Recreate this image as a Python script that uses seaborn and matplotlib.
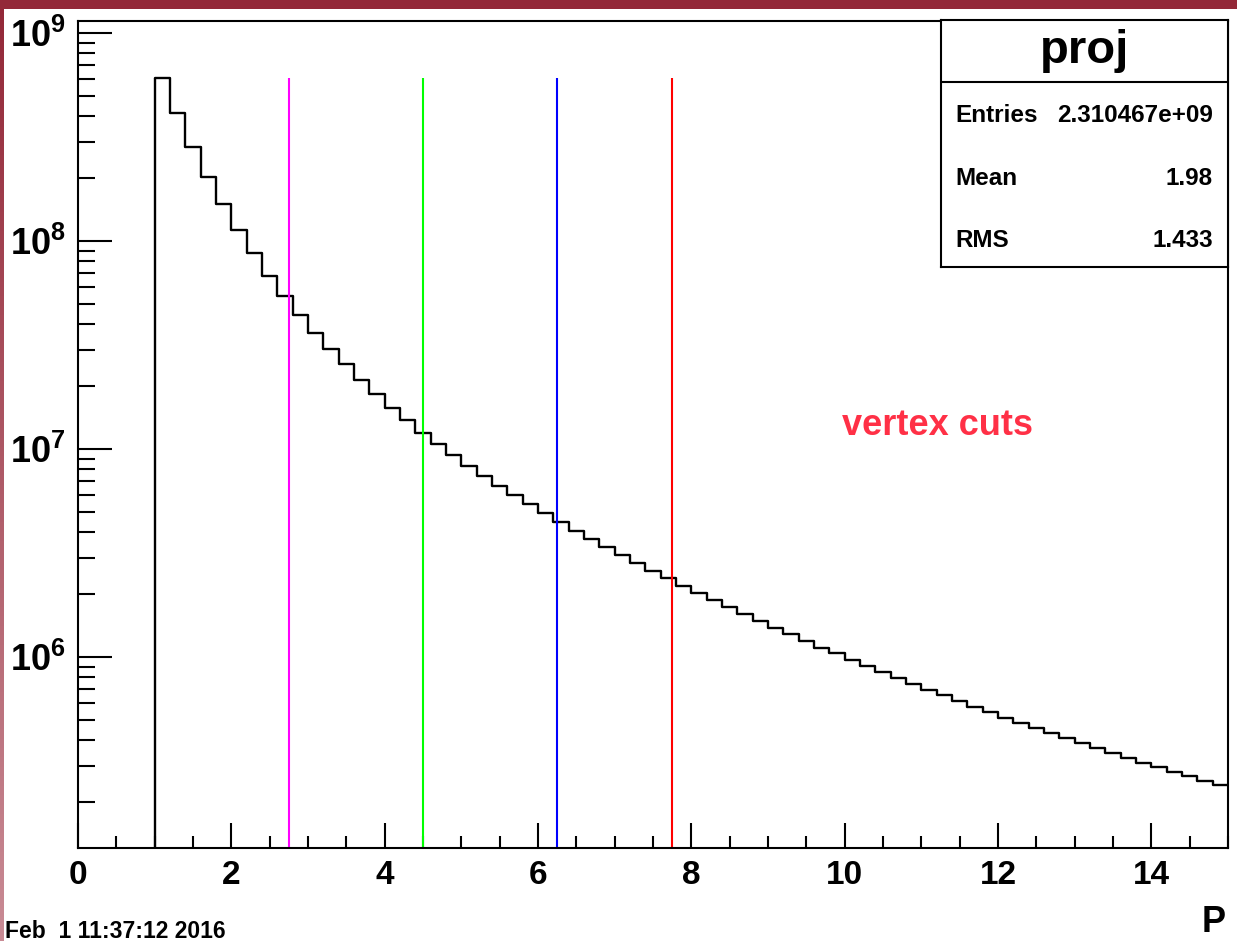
import numpy as np
import pandas as pd
import matplotlib.pyplot as plt
import seaborn as sns
from matplotlib.ticker import LogLocator, MultipleLocator, NullFormatter
from matplotlib.colors import LinearSegmentedColormap
from matplotlib.patches import Rectangle

# histogram "proj": 70 bins of 0.2 in P from 1 to 15
bin_edges = np.linspace(1.0, 15.0, 71)
counts = [
    6.08e8, 4.11e8, 2.84e8, 2.04e8, 1.50e8, 1.13e8, 8.73e7, 6.81e7, 5.44e7, 4.41e7,
    3.62e7, 3.02e7, 2.55e7, 2.15e7, 1.84e7, 1.58e7, 1.38e7, 1.20e7, 1.057e7, 9.33e6,
    8.29e6, 7.44e6, 6.66e6, 6.01e6, 5.42e6, 4.91e6, 4.45e6, 4.05e6, 3.69e6, 3.37e6,
    3.08e6, 2.82e6, 2.59e6, 2.39e6, 2.19e6, 2.02e6, 1.87e6, 1.73e6, 1.61e6, 1.49e6,
    1.38e6, 1.29e6, 1.20e6, 1.11e6, 1.04e6, 9.67e5, 9.02e5, 8.44e5, 7.93e5, 7.42e5,
    6.94e5, 6.53e5, 6.17e5, 5.77e5, 5.44e5, 5.11e5, 4.82e5, 4.54e5, 4.30e5, 4.07e5,
    3.85e5, 3.64e5, 3.44e5, 3.27e5, 3.10e5, 2.95e5, 2.80e5, 2.67e5, 2.54e5, 2.42e5,
]

# vertex cut positions
cut_values = [2.75, 4.5, 6.25, 7.75]
cut_colors = ['#ff00ff', '#00ff00', '#0000ff', '#ff0000']

# stats box
stat_names = ['Entries', 'Mean', 'RMS']
stat_values = ['2.310467e+09', '1.98', '1.433']

sns.set_style('ticks')
plt.rcParams['font.family'] = ['Liberation Sans', 'DejaVu Sans']
plt.rcParams['font.weight'] = 'bold'
plt.rcParams['text.color'] = 'black'
plt.rcParams['xtick.color'] = 'black'
plt.rcParams['ytick.color'] = 'black'
plt.rcParams['axes.labelcolor'] = 'black'
plt.rcParams['mathtext.fontset'] = 'custom'
plt.rcParams['mathtext.rm'] = 'Liberation Sans:bold'
plt.rcParams['mathtext.it'] = 'Liberation Sans:bold'
plt.rcParams['mathtext.bf'] = 'Liberation Sans:bold'

W, H = 1237, 941
fig = plt.figure(figsize=(W / 100, H / 100), dpi=100)
fig.patch.set_facecolor('white')

# canvas frame: dark red band on top, fading band on left
fig.patches.append(Rectangle((0, 1 - 8.5 / H), 1, 8.5 / H, transform=fig.transFigure,
                             facecolor='#932838', edgecolor='none', zorder=5))
gax = fig.add_axes([0, 0, 4 / W, 1])
cmap = LinearSegmentedColormap.from_list('frame', ['#932838', '#c98b95'])
gax.imshow(np.linspace(0, 1, 200).reshape(-1, 1), aspect='auto', cmap=cmap)
gax.axis('off')

ax = fig.add_axes([78 / W, 1 - 848 / H, (1228 - 78) / W, (848 - 21) / H])

centers = (bin_edges[:-1] + bin_edges[1:]) / 2
df = pd.DataFrame({'P': centers, 'count': counts})
sns.histplot(data=df, x='P', weights='count', bins=list(bin_edges), element='step',
             fill=False, color='black', linewidth=1.7, ax=ax)
ax.set_yscale('log')
ymin, ymax = 1.207e5, 1.142e9
ax.set_xlim(0, 15)
ax.set_ylim(ymin, ymax)
ax.vlines(bin_edges[0], ymin, counts[0], color='black', linewidth=1.7)

for c, col in zip(cut_values, cut_colors):
    ax.vlines(c, ymin, max(counts), color=col, linewidth=1.5)

ax.set_xlabel('')
ax.set_ylabel('')
for s in ax.spines.values():
    s.set_visible(True)
    s.set_linewidth(1.5)
    s.set_color('black')

ax.xaxis.set_major_locator(MultipleLocator(2))
ax.xaxis.set_minor_locator(MultipleLocator(0.5))
ax.yaxis.set_major_locator(LogLocator(base=10, numticks=20))
ax.yaxis.set_minor_locator(LogLocator(base=10, subs=np.arange(2, 10), numticks=20))
ax.yaxis.set_minor_formatter(NullFormatter())
ax.tick_params(axis='x', which='major', direction='in', length=18, width=1.5,
               labelsize=24, pad=9, top=False, labelcolor='black')
ax.tick_params(axis='x', which='minor', direction='in', length=8.6, width=1.5, top=False)
ax.tick_params(axis='y', which='major', direction='in', length=24.5, width=1.5,
               labelsize=26, pad=9, right=False, labelcolor='black')
ax.tick_params(axis='y', which='minor', direction='in', length=12, width=1.5, right=False)

ax.text(842 / W, 1 - 435 / H, 'vertex cuts', transform=fig.transFigure,
        color='#ff3046', fontsize=26, fontweight='bold', ha='left', va='baseline')

# stats box
bax = fig.add_axes([941 / W, 1 - 267 / H, (1228 - 941) / W, (267 - 20) / H])
bax.set_xticks([])
bax.set_yticks([])
bax.set_xlim(0, 1)
bax.set_ylim(0, 1)
for s in bax.spines.values():
    s.set_linewidth(1.5)
    s.set_color('black')
bax.axhline(0.749, color='black', linewidth=1.5)
bax.text(0.5, 0.875, 'proj', ha='center', va='center', fontsize=34, fontweight='bold')
for name, val, yy in zip(stat_names, stat_values, [0.615, 0.360, 0.109]):
    bax.text(0.049, yy, name, ha='left', va='center', fontsize=17.5, fontweight='bold')
    bax.text(0.948, yy, val, ha='right', va='center', fontsize=17.5, fontweight='bold')

fig.text(5 / W, 3 / H, 'Feb  1 11:37:12 2016', ha='left', va='baseline',
         fontsize=16.5, fontweight='bold')
fig.text(1226 / W, 1 / H, 'P', ha='right', va='bottom', fontsize=26, fontweight='bold')

fig.savefig('out.png', dpi=100)
